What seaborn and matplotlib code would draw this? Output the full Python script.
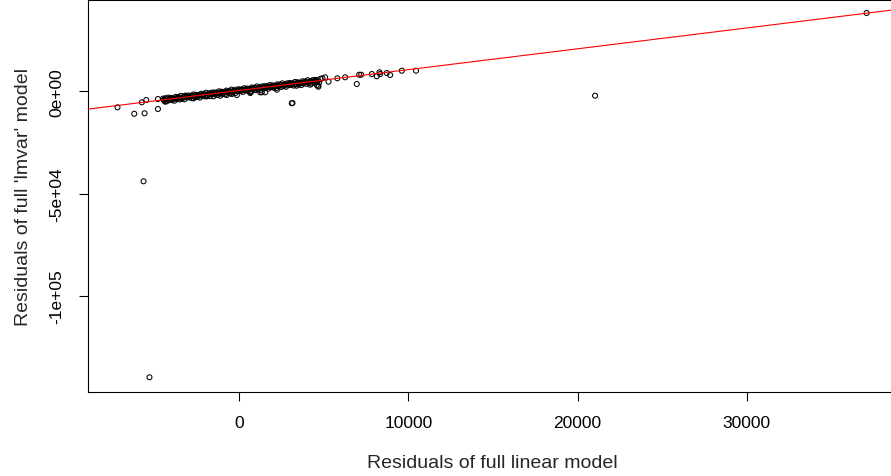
import matplotlib
matplotlib.use("Agg")
import matplotlib.pyplot as plt
import seaborn as sns
import pandas as pd

# ---- data ----
band_a_x = [-4500, -4350, -4200, -4050, -3900, -3750, -3600, -3450, -3300, -3150,
            -3000, -2850, -2700, -2550, -2400, -2250, -2100, -1950, -1800, -1650,
            -1500, -1350, -1200, -1050, -900, -750, -600, -450, -300, -150,
            0, 150, 300, 450, 600, 750, 900, 1050, 1200, 1350,
            1500, 1650, 1800, 1950, 2100, 2250, 2400, 2550, 2700, 2850,
            3000, 3150, 3300, 3450, 3600, 3750, 3900, 4050, 4200, 4350,
            4500, 4650, 4800]
band_a_y = [-3590, -3740, -3080, -3230, -3380, -2730, -2870, -2220, -2670, -2210,
            -2060, -2210, -1550, -1700, -1850, -1200, -1340, -690, -1140, -680,
            -530, -680, -20, -170, -320, 340, 190, 840, 390, 850,
            1000, 850, 1510, 1360, 1210, 1870, 1720, 2370, 1920, 2380,
            2530, 2380, 3040, 2890, 2740, 3400, 3250, 3900, 3450, 3910,
            4060, 3910, 4570, 4420, 4270, 4930, 4780, 5430, 4980, 5440,
            5590, 5440, 6100]
band_b_x = [-4425, -4275, -4125, -3975, -3825, -3675, -3525, -3375, -3225, -3075,
            -2925, -2775, -2625, -2475, -2325, -2175, -2025, -1875, -1725, -1575,
            -1425, -1275, -1125, -975, -825, -675, -525, -375, -225, -75,
            75, 225, 375, 525, 675, 825, 975, 1125, 1275, 1425,
            1575, 1725, 1875, 2025, 2175, 2325, 2475, 2625, 2775, 2925,
            3075, 3225, 3375, 3525, 3675, 3825, 3975, 4125, 4275, 4425,
            4575, 4725]
band_b_y = [-4610, -4860, -4110, -4350, -4600, -3750, -4000, -3640, -3890, -2940,
            -3080, -3330, -2580, -2820, -3070, -2220, -2470, -2110, -2360, -1410,
            -1550, -1800, -1050, -1290, -1540, -690, -940, -580, -830, 120,
            -20, -270, 480, 240, -10, 840, 600, 950, 700, 1650,
            1510, 1260, 2010, 1770, 1520, 2370, 2130, 2480, 2230, 3180,
            3040, 2790, 3540, 3300, 3050, 3900, 3660, 4010, 3760, 4710,
            4570, 4320]
band_c_x = [-4460, -4310, -4160, -4010, -3860, -3710, -3560, -3410, -3260, -3110,
            -2960, -2810, -2660, -2510, -2360, -2210, -2060, -1910, -1760, -1610,
            -1460, -1310, -1160, -1010, -860, -710, -560, -410, -260, -110,
            40, 190, 340, 490, 640, 790, 940, 1090, 1240, 1390,
            1540, 1690, 1840, 1990, 2140, 2290, 2440, 2590, 2740, 2890,
            3040, 3190, 3340, 3490, 3640, 3790, 3940, 4090, 4240, 4390,
            4540]
band_c_y = [-4150, -3800, -4040, -3590, -3640, -3380, -3030, -3280, -2830, -2870,
            -2620, -2270, -2510, -2060, -2110, -1850, -1500, -1750, -1300, -1340,
            -1090, -740, -980, -530, -580, -320, 30, -220, 240, 190,
            440, 790, 550, 1000, 950, 1210, 1560, 1310, 1770, 1720,
            1970, 2320, 2080, 2530, 2480, 2740, 3090, 2840, 3300, 3250,
            3500, 3850, 3610, 4060, 4010, 4270, 4620, 4370, 4830, 4780,
            5030]
outlier_x = [-7190, -6200, -5590, -5750, -5490, -4800, -4800, -4370, -4370, -3190,
             -2600, -1910, -1520, -1120, -430, 690, 1240, 1540, 2230, 3150,
             3400, 4680, 4620, 4920, 5080, 5800, 6260, 6950, 7090, 7210,
             7840, 8130, 8330, 4190, 4680, 5280, 8290, 8720, 8920, 9610,
             10450, 21030, 37075, -5650, -5300, -2700, -730, -140, 650, 1340,
             3110, 4590]
outlier_y = [-7830, -11000, -10760, -5380, -4260, -8660, -3770, -3420, -5090, -2150,
             -2940, -2450, -2450, -2150, -1320, -490, -490, -490, 780, -5720,
             2740, 2740, 4700, 6360, 6850, 6360, 6850, 3570, 8120, 8120,
             8460, 7340, 8460, 3230, 2250, 4700, 9300, 8950, 7970, 10080,
             10080, -2150, 38300, -44030, -139900, -3420, -1810, -1810, -830, -490,
             -5870, 3080]

fit_intercept = 400
fit_slope = 1.02

x_ticks = [0, 10000, 20000, 30000]
x_tick_labels = ["0", "10000", "20000", "30000"]
y_ticks = [0, -50000, -100000]
y_tick_labels = ["0e+00", "-5e+04", "-1e+05"]

x_title = "Residuals of full linear model"
y_title = "Residuals of full 'lmvar' model"

# ---- plot ----
sns.set_style("white")
plt.rcParams["font.family"] = ["Liberation Sans", "DejaVu Sans"]

df = pd.DataFrame({
    "lm": band_a_x + band_b_x + band_c_x + outlier_x,
    "lmvar": band_a_y + band_b_y + band_c_y + outlier_y,
})

fig = plt.figure(figsize=(8.91, 4.77), dpi=100)
ax = fig.add_axes([87.5 / 891, 1 - 393 / 477, (897 - 87.5) / 891, 392 / 477])

sns.scatterplot(data=df, x="lm", y="lmvar", ax=ax, marker="o", s=13,
                facecolor="none", edgecolor="black", linewidth=0.75, zorder=2)
ax.axline((0, fit_intercept), slope=fit_slope, color="red", lw=0.8, zorder=3)

ax.set_xlim(-8962, 38872)
ax.set_ylim(-147110, 44670)

ax.set_xticks(x_ticks)
ax.set_xticklabels(x_tick_labels)
ax.set_yticks(y_ticks)
ax.set_yticklabels(y_tick_labels, rotation=90, va="center")

ax.tick_params(axis="both", direction="out", length=6.5, width=0.8,
               color="black", labelsize=12.5, labelcolor="black", pad=10)
ax.tick_params(axis="x", bottom=True)
ax.tick_params(axis="y", left=True)

for sp in ax.spines.values():
    sp.set_color("black")
    sp.set_linewidth(0.8)
    sp.set_visible(True)

ax.set_xlabel(x_title, fontsize=14, labelpad=17)
ax.set_ylabel(y_title, fontsize=14, labelpad=13)

fig.savefig("out.png", dpi=100)
